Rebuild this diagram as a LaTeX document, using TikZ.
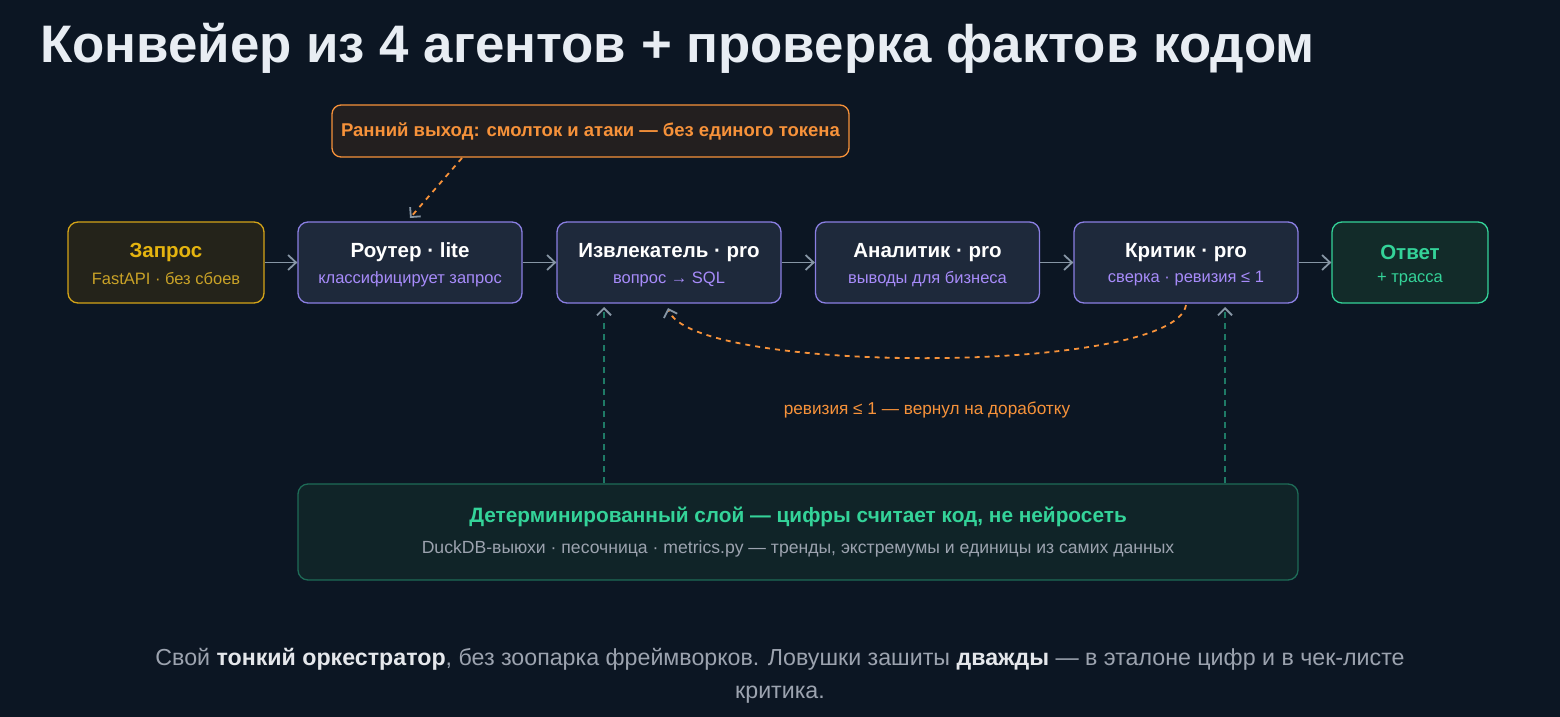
\documentclass[tikz,border=0pt]{standalone}
\usepackage{fontspec}
\setmainfont{Liberation Sans}
\usetikzlibrary{arrows.meta}
\definecolor{bg}{HTML}{0C1623}
\definecolor{boxfill}{HTML}{1E293B}
\definecolor{purp}{HTML}{8B7FE3}
\definecolor{purptxt}{HTML}{A78BFA}
\definecolor{gold}{HTML}{E5B40F}
\definecolor{goldbd}{HTML}{D4A418}
\definecolor{goldsub}{HTML}{C9A227}
\definecolor{goldfill}{HTML}{24231A}
\definecolor{grn}{HTML}{34D399}
\definecolor{grnfill}{HTML}{122B29}
\definecolor{orng}{HTML}{F7923A}
\definecolor{orngfill}{HTML}{231F1F}
\definecolor{arrgray}{HTML}{8796A5}
\definecolor{tealdash}{HTML}{1F7A66}
\definecolor{tealbd}{HTML}{1E6B57}
\definecolor{tealfill}{HTML}{102428}
\definecolor{subgray}{HTML}{9CA3AF}
\definecolor{titlec}{HTML}{E8EDF3}
\definecolor{boldw}{HTML}{E5E7EB}
\tikzset{
  agent/.style={draw=purp, line width=1.3pt, fill=boxfill, rounded corners=10pt,
    minimum width=224pt, minimum height=81pt, inner sep=0pt},
  ttl/.style={font=\bfseries\fontsize{20.5}{24}\selectfont, text=white},
  subt/.style={font=\fontsize{16.5}{20}\selectfont, text=purptxt},
  flow/.style={draw=arrgray, line width=1.8pt, -{Straight Barb[length=8pt,width=15pt]}},
  odash/.style={draw=orng, line width=1.8pt, dash pattern=on 5pt off 5pt,
    -{Straight Barb[length=7pt,width=14pt,color=arrgray,line width=1.8pt]}},
  tdash/.style={draw=tealdash, line width=1.5pt, dash pattern=on 6pt off 5pt,
    -{Straight Barb[length=7pt,width=14pt,color=arrgray,line width=1.8pt]}}
}
\begin{document}
\begin{tikzpicture}[x=1pt,y=-1pt]
\useasboundingbox (0,0) rectangle (1560,717);
\fill[bg] (0,0) rectangle (1560,717);

\node[anchor=base west, text=titlec, font=\bfseries\fontsize{52.8}{60}\selectfont, inner sep=0pt] (title) at (40,63) {Конвейер из 4 агентов + проверка фактов кодом};

\node[draw=orng, line width=1.3pt, fill=orngfill, rounded corners=9pt, minimum width=517pt, minimum height=52pt, inner sep=0pt, text=orng, font=\bfseries\fontsize{18.5}{22}\selectfont] (early) at (590.5,131) {Ранний выход: смолток и атаки — без единого токена};

% agent boxes
\node[agent, draw=goldbd, fill=goldfill, minimum width=196pt] (zap) at (166,262.5) {};
\node[agent] (rout) at (410,262.5) {};
\node[agent] (izv) at (669,262.5) {};
\node[agent] (anal) at (927.5,262.5) {};
\node[agent] (krit) at (1186,262.5) {};
\node[agent, draw=grn, fill=grnfill, minimum width=156pt] (otv) at (1410,262.5) {};

\node[ttl, text=gold] (zapt) at ([yshift=10pt]zap.center) {Запрос};
\node[subt, text=goldsub] (zaps) at ([yshift=-16.5pt]zap.center) {FastAPI · без сбоев};
\node[ttl] (routt) at ([yshift=10pt]rout.center) {Роутер · lite};
\node[subt] (routs) at ([yshift=-16.5pt]rout.center) {классифицирует запрос};
\node[ttl] (izvt) at ([yshift=10pt]izv.center) {Извлекатель · pro};
\node[subt] (izvs) at ([yshift=-16.5pt]izv.center) {вопрос → SQL};
\node[ttl] (analt) at ([yshift=10pt]anal.center) {Аналитик · pro};
\node[subt] (anals) at ([yshift=-16.5pt]anal.center) {выводы для бизнеса};
\node[ttl] (kritt) at ([yshift=10pt]krit.center) {Критик · pro};
\node[subt] (krits) at ([yshift=-16.5pt]krit.center) {сверка · ревизия ≤ 1};
\node[ttl, text=grn] (otvt) at ([yshift=10pt]otv.center) {Ответ};
\node[subt, text=grn] (otvs) at ([yshift=-17pt]otv.center) {+ трасса};

\draw[flow] (zap.east) -- (rout.west);
\draw[flow] (rout.east) -- (izv.west);
\draw[flow] (izv.east) -- (anal.west);
\draw[flow] (anal.east) -- (krit.west);
\draw[flow] (krit.east) -- (otv.west);

\coordinate (e1) at (462,158);
\coordinate (e2) at (410,218);
\draw[odash] (e1) -- (e2);

\node[draw=tealbd, line width=1.3pt, fill=tealfill, rounded corners=10pt, minimum width=1000pt, minimum height=96pt, inner sep=0pt] (det) at (798,532) {};
\node[font=\bfseries\fontsize{20.8}{24}\selectfont, text=grn] (dett) at (798,517) {Детерминированный слой — цифры считает код, не нейросеть};
\node[font=\fontsize{17.6}{20}\selectfont, text=subgray] (dets) at (798,549) {DuckDB-выюхи · песочница · metrics.py — тренды, экстремумы и единицы из самих данных};

\coordinate (u1) at (604,307);
\coordinate (u2) at (1225,307);
\draw[tdash] (det.north -| u1) -- (u1);
\draw[tdash] (det.north -| u2) -- (u2);

\coordinate (c1) at (1186,305);
\coordinate (c2) at (668,308);
\draw[odash] (c1) .. controls (1175,375) and (690,375) .. (c2);

\node[text=orng, font=\fontsize{17.2}{20}\selectfont] (rev) at (927,410) {ревизия ≤ 1 — вернул на доработку};

\node[align=center, text=subgray, font=\fontsize{23.2}{33}\selectfont] (foot) at (780,676)
  {Свой {\bfseries\color{boldw}тонкий оркестратор}, без зоопарка фреймворков. Ловушки зашиты {\bfseries\color{boldw}дважды} — в эталоне цифр и в чек-листе\\критика.};
\end{tikzpicture}
\end{document}
